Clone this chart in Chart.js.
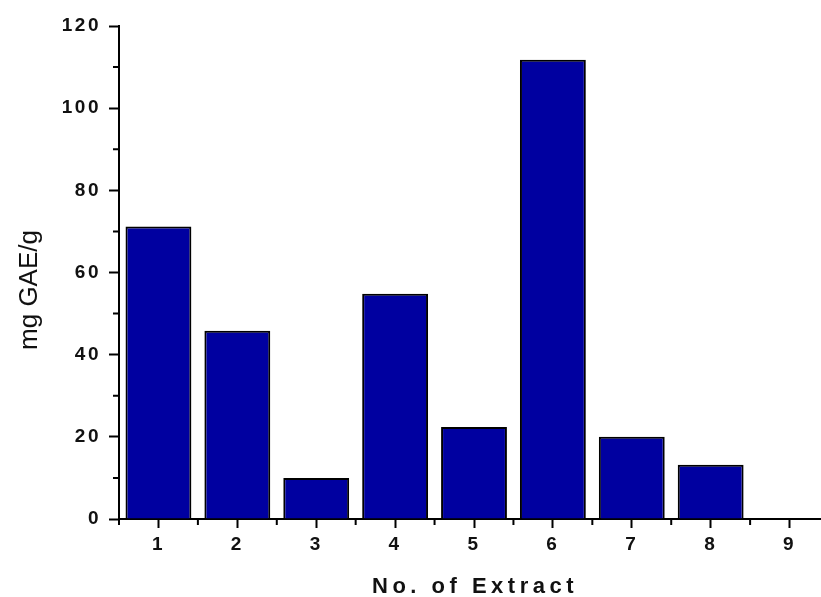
<!DOCTYPE html>
<html>
<head>
<meta charset="utf-8">
<script src="https://cdn.jsdelivr.net/npm/chart.js@4.4.1/dist/chart.umd.min.js"></script>
<style>
  html, body { margin: 0; padding: 0; background: #fff; overflow: hidden; }
  canvas { display: block; }
</style>
</head>
<body>
<canvas id="myChart" width="829" height="597"></canvas>
<script>
// data
const categories = ['1', '2', '3', '4', '5', '6', '7', '8', '9'];
const gaeValues = [71.2, 45.8, 10.0, 54.8, 22.4, 111.8, 20.0, 13.2, 0];
const yMinorTicks = [10, 30, 50, 70, 90, 110];
const xTitle = 'No. of Extract';
const yTitle = 'mg GAE/g';

const axisFont = "'Liberation Sans', Arial, sans-serif";

// minor ticks, spaced titles
const decoPlugin = {
  id: 'deco',
  beforeDraw(chart) {
    chart.ctx.letterSpacing = '2.5px';
  },
  afterDraw(chart) {
    const ctx = chart.ctx;
    const x = chart.scales.x;
    const y = chart.scales.y;
    const area = chart.chartArea;
    ctx.save();
    ctx.strokeStyle = '#000';
    ctx.lineWidth = 2;
    ctx.beginPath();
    yMinorTicks.forEach(v => {
      const py = y.getPixelForValue(v);
      ctx.moveTo(area.left - 6, py);
      ctx.lineTo(area.left, py);
    });
    const half = (x.getPixelForValue(1) - x.getPixelForValue(0)) / 2;
    for (let i = 0; i < categories.length; i++) {
      const px = x.getPixelForValue(i) - half;
      ctx.moveTo(px, area.bottom);
      ctx.lineTo(px, area.bottom + 6);
    }
    ctx.stroke();

    ctx.fillStyle = '#111';
    ctx.letterSpacing = '4.5px';
    ctx.font = 'bold 22px ' + axisFont;
    ctx.textAlign = 'left';
    ctx.textBaseline = 'alphabetic';
    ctx.fillText(xTitle, 372, 593);

    ctx.letterSpacing = '0px';
    ctx.font = '26px ' + axisFont;
    ctx.translate(37, 290);
    ctx.rotate(-Math.PI / 2);
    ctx.textAlign = 'center';
    ctx.fillText(yTitle, 0, 0);
    ctx.restore();
  }
};

new Chart(document.getElementById('myChart'), {
  type: 'bar',
  data: {
    labels: categories,
    datasets: [{
      data: gaeValues,
      backgroundColor: '#0000a0',
      borderColor: '#000',
      borderWidth: 2,
      barPercentage: 0.835,
      categoryPercentage: 1
    }]
  },
  options: {
    responsive: false,
    animation: false,
    layout: { padding: { top: 26, right: 0, left: 0, bottom: 0 } },
    plugins: { legend: { display: false }, tooltip: { enabled: false } },
    scales: {
      x: {
        offset: true,
        grid: { drawOnChartArea: false, offset: false, tickLength: 9, tickWidth: 2, tickColor: '#000' },
        border: { display: true, color: '#000', width: 2 },
        ticks: { color: '#111', padding: 5, font: { family: axisFont, size: 19, weight: 'bold' } },
        afterFit(scale) { scale.height = 78; }
      },
      y: {
        min: 0,
        max: 120,
        grid: { drawOnChartArea: false, tickLength: 10, tickWidth: 2, tickColor: '#000' },
        border: { display: true, color: '#000', width: 2 },
        ticks: { stepSize: 20, color: '#111', padding: 8, font: { family: axisFont, size: 19, weight: 'bold' } },
        afterFit(scale) { scale.width = 119; }
      }
    }
  },
  plugins: [decoPlugin]
});
</script>
</body>
</html>
